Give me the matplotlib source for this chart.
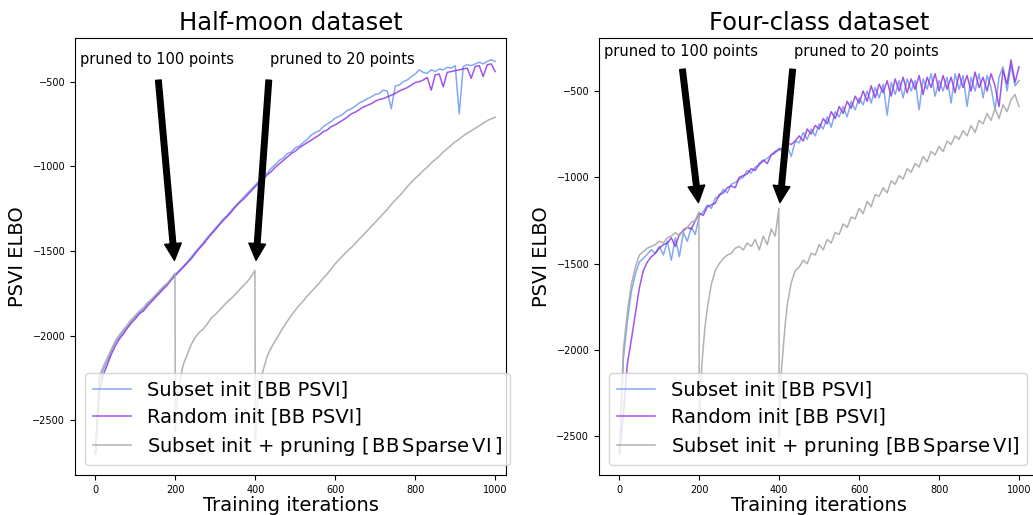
import matplotlib
matplotlib.use("Agg")
import matplotlib.pyplot as plt

# 1 Values (ELBO vs training iteration)
iters = list(range(0, 1001, 10))

# Half-moon dataset
moon_subset = [-2700, -2260, -2200, -2150, -2090, -2040, -2010, -1975, -1950, -1915,
               -1890, -1865, -1845, -1815, -1795, -1765, -1745, -1715, -1695, -1665,
               -1640, -1615, -1590, -1565, -1535, -1505, -1480, -1450, -1420, -1395,
               -1365, -1340, -1310, -1290, -1260, -1235, -1210, -1185, -1160, -1135,
               -1110, -1085, -1055, -1040, -1010, -990, -965, -950, -925, -915,
               -890, -880, -860, -840, -815, -800, -790, -765, -750, -735,
               -715, -705, -690, -670, -660, -645, -625, -615, -600, -590,
               -575, -570, -550, -555, -660, -525, -520, -500, -490, -470,
               -455, -430, -445, -450, -430, -440, -425, -430, -415, -420,
               -405, -690, -410, -400, -405, -395, -385, -395, -380, -370,
               -380]
moon_random = [-2700, -2320, -2230, -2170, -2110, -2060, -2020, -1990, -1955, -1925,
               -1900, -1870, -1855, -1825, -1800, -1775, -1750, -1725, -1700, -1670,
               -1645, -1620, -1595, -1570, -1545, -1515, -1485, -1460, -1430, -1400,
               -1375, -1345, -1320, -1295, -1270, -1240, -1215, -1195, -1170, -1145,
               -1120, -1095, -1075, -1050, -1030, -1005, -985, -965, -945, -925,
               -910, -890, -875, -860, -845, -830, -815, -795, -785, -765,
               -755, -740, -725, -710, -690, -680, -665, -650, -640, -630,
               -615, -605, -600, -590, -580, -570, -555, -545, -535, -520,
               -505, -500, -490, -475, -550, -460, -455, -530, -445, -440,
               -435, -430, -425, -420, -480, -410, -405, -470, -400, -395,
               -440]
moon_prune_iters = ([0, 10, 20, 30, 40, 50, 60, 70, 80, 90, 100, 110, 120, 130, 140,
                     150, 160, 170, 180, 190, 199]
                    + [200, 203, 206, 210, 215] + list(range(220, 400, 10)) + [399]
                    + [400, 403, 406, 410, 415] + list(range(420, 1001, 10)))
moon_prune = ([-2700, -2240, -2180, -2130, -2080, -2030, -1995, -1965, -1935, -1905,
               -1880, -1855, -1835, -1805, -1785, -1760, -1735, -1710, -1690, -1660, -1630]
              + [-2560, -2450, -2350, -2300, -2220,
                 -2170, -2110, -2050, -2010, -1980, -1960, -1930, -1895, -1875, -1850,
                 -1825, -1800, -1780, -1755, -1730, -1705, -1680, -1650, -1615]
              + [-2620, -2480, -2380, -2330, -2250,
                 -2200, -2120, -2070, -2030, -1990, -1950, -1915, -1880, -1850, -1820,
                 -1795, -1765, -1740, -1715, -1690, -1660, -1635, -1605, -1575, -1550,
                 -1525, -1500, -1480, -1455, -1430, -1405, -1380, -1355, -1330, -1305,
                 -1280, -1255, -1225, -1200, -1175, -1150, -1120, -1095, -1070, -1050,
                 -1025, -1005, -980, -960, -940, -915, -895, -875, -855, -840,
                 -820, -805, -790, -775, -760, -745, -730, -720, -710])

# Four-class dataset
four_subset = [-2600, -2050, -1830, -1660, -1560, -1490, -1470, -1445, -1420, -1440,
               -1400, -1450, -1370, -1480, -1350, -1460, -1320, -1370, -1290, -1330,
               -1220, -1200, -1160, -1180, -1120, -1110, -1070, -1090, -1040, -1030,
               -1010, -1000, -960, -975, -940, -930, -905, -890, -870, -860,
               -830, -860, -820, -880, -790,
               -800, -740, -780, -720, -760, -690, -720, -650, -710, -620,
               -650, -590, -650, -560, -610, -540, -580, -500, -570, -480,
               -540, -460, -640, -450, -520, -440, -540, -430, -500, -440,
               -610, -430, -490, -400, -530, -440, -500, -420, -570, -400,
               -490, -410, -590, -420, -500, -400, -540, -410, -480, -610,
               -420, -360, -500, -350, -470, -440]
four_random = [-2600, -2370, -2080, -1940, -1790, -1640, -1540, -1490, -1460, -1440,
               -1410, -1390, -1380, -1350, -1400, -1330, -1310, -1290, -1300, -1250,
               -1210, -1220, -1170, -1160, -1150, -1100, -1090, -1060, -1050, -1060,
               -1000, -990, -980, -950, -960, -920, -900, -920, -870, -850,
               -840, -830, -800, -810, -790,
               -760, -790, -720, -750, -700, -720, -660, -690, -620, -660,
               -590, -630, -560, -600, -530, -570, -500, -560, -470, -540,
               -460, -510, -440, -530, -430, -500, -420, -510, -430, -490,
               -410, -520, -420, -480, -400, -500, -410, -490, -420, -510,
               -400, -480, -410, -500, -390, -480, -420, -500, -400, -470,
               -590, -380, -460, -320, -450, -360]
four_prune_iters = ([0, 10, 20, 30, 40, 50, 60, 70, 80, 90, 100, 110, 120, 130, 140,
                     150, 160, 170, 180, 190, 199]
                    + [200, 203, 206, 210, 215] + list(range(220, 400, 10)) + [395, 399]
                    + [400, 403, 406, 410, 415] + list(range(420, 1001, 10)))
four_prune = ([-2600, -2000, -1780, -1620, -1520, -1450, -1430, -1410, -1400, -1390,
               -1370, -1380, -1350, -1340, -1320, -1340, -1300, -1290, -1260, -1250, -1200]
              + [-2520, -2250, -2100, -1980, -1850,
                 -1760, -1620, -1540, -1500, -1470, -1450, -1440, -1410, -1400, -1420,
                 -1380, -1400, -1360, -1420, -1340, -1390, -1300, -1340, -1250, -1180]
              + [-2510, -2250, -2100, -1990, -1850,
                 -1740, -1610, -1540, -1520, -1480, -1500, -1440, -1450, -1390, -1420,
                 -1360, -1380, -1320, -1330, -1270, -1290, -1230, -1240, -1180, -1210,
                 -1140, -1170, -1100, -1110, -1060, -1090, -1020, -1040, -990, -1010,
                 -950, -970, -920, -940, -880, -910, -850, -870, -820, -850,
                 -790, -810, -760, -780, -730, -760, -700, -740, -670, -690,
                 -630, -670, -600, -660, -580, -620, -550, -520, -590])

x_ticks = [0, 200, 400, 600, 800, 1000]
y_ticks = [-2500, -2000, -1500, -1000, -500]

# 2 Figure with axes placed to match the reference layout (pixels)
W, H = 1033, 515
fig = plt.figure(figsize=(W / 100, H / 100), dpi=100)


def px_axes(x0, y0, x1, y1):
    return fig.add_axes([x0 / W, 1 - y1 / H, (x1 - x0) / W, (y1 - y0) / H])


panels = [
    dict(ax=px_axes(75, 38, 506, 475), title="Half-moon dataset",
         subset=moon_subset, random=moon_random,
         prune_x=moon_prune_iters, prune=moon_prune,
         xlim=(-51, 1027), ylim=(-2823, -242), text_y=-397, tip_y=-1615,
         prune_label=r"Subset init + pruning [$\,\mathrm{BB\,Sparse\,VI}\,$]"),
    dict(ax=px_axes(599, 38, 1039, 475), title="Four-class dataset",
         subset=four_subset, random=four_random,
         prune_x=four_prune_iters, prune=four_prune,
         xlim=(-51, 1050), ylim=(-2724, -193), text_y=-297, tip_y=-1190,
         prune_label=r"Subset init + pruning [$\mathrm{BB\,Sparse\,VI}$]"),
]

for p in panels:
    ax = p["ax"]
    ax.plot(iters, p["subset"], color="cornflowerblue", alpha=0.8, lw=1.1,
            label="Subset init [BB PSVI]")
    ax.plot(iters, p["random"], color="blueviolet", alpha=0.8, lw=1.1,
            label="Random init [BB PSVI]")
    ax.plot(p["prune_x"], p["prune"], color="darkgray", alpha=0.9, lw=1.1,
            label=p["prune_label"])

    # 3 Arrows pointing at the pruning steps
    ax.annotate("pruned to 100 points", xy=(200, p["tip_y"]), xytext=(-38, p["text_y"]),
                fontsize=10.5, arrowprops=dict(facecolor="black", shrink=0.05))
    ax.annotate("pruned to 20 points", xy=(400, p["tip_y"]), xytext=(436, p["text_y"]),
                fontsize=10.5, arrowprops=dict(facecolor="black", shrink=0.05))

    ax.set_xlim(*p["xlim"])
    ax.set_ylim(*p["ylim"])
    ax.set_xticks(x_ticks)
    ax.set_yticks(y_ticks)
    ax.tick_params(labelsize=7)
    ax.set_title(p["title"], fontsize=17.5)
    ax.set_xlabel("Training iterations", fontsize=14, labelpad=1)
    ax.set_ylabel("PSVI ELBO", fontsize=14)
    ax.legend(loc="lower left", fontsize=14, labelspacing=0.4)

fig.savefig("out.png", dpi=100)
